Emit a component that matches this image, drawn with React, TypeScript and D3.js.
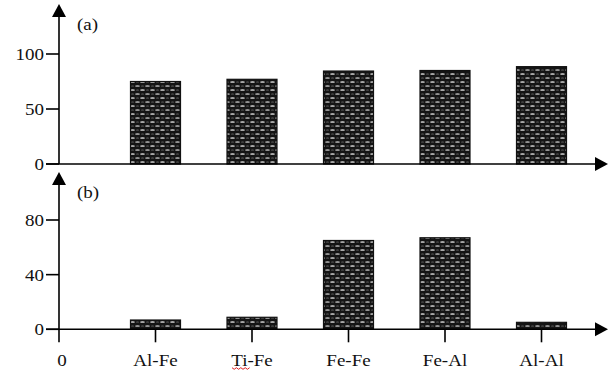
import React from "react";
import * as d3 from "d3";

const categories = ["Al-Fe", "Ti-Fe", "Fe-Fe", "Fe-Al", "Al-Al"];
const valuesA = [75, 77, 84.5, 85, 88.5];
const valuesB = [6.8, 8.8, 65, 67, 5.1];
const ticksA = [0, 50, 100];
const ticksB = [0, 40, 80];

const W = 608;
const H = 373;
const FONT = "'Liberation Serif', 'Times New Roman', Times, serif";

const x = d3.scaleLinear().domain([0, 5]).range([59, 541.5]);
const yA = d3.scaleLinear().domain([0, 100]).range([164, 54]);
const yB = d3.scaleLinear().domain([0, 80]).range([329.3, 220]);
const BAR_W = 50;

function Txt({ x, y, anchor, children }: { x: number; y: number; anchor: string; children: React.ReactNode }) {
  return (
    <g transform={`translate(${x},${y}) scale(1.12,1)`}>
      <text x={0} y={0} textAnchor={anchor as any} fontFamily={FONT} fontSize={17} fill="#111">
        {children}
      </text>
    </g>
  );
}

function Panel({ y, values, ticks, label, top, showCats }: any) {
  const y0 = y(0);
  return (
    <g>
      {values.map((v: number, i: number) => (
        <rect
          key={i}
          x={x(i + 1) - BAR_W / 2}
          y={y(v)}
          width={BAR_W}
          height={y0 - y(v)}
          fill="url(#weave)"
          stroke="#111"
          strokeWidth={1.2}
        />
      ))}
      <line x1={59} x2={59} y1={top + 10} y2={showCats ? y0 + 13 : y0} stroke="#000" strokeWidth={1.6} />
      <path d={`M59,${top} L52,${top + 13} L66,${top + 13} Z`} fill="#000" />
      <line x1={46} x2={598} y1={y0} y2={y0} stroke="#000" strokeWidth={1.6} />
      <path d={`M608,${y0} L595,${y0 - 7} L595,${y0 + 7} Z`} fill="#000" />
      {ticks.map((t: number) => (
        <g key={t}>
          <line x1={46} x2={59} y1={y(t)} y2={y(t)} stroke="#000" strokeWidth={1.6} />
          <Txt x={44} y={y(t) + 6} anchor="end">{t}</Txt>
        </g>
      ))}
      <Txt x={77} y={top + 26} anchor="start">{label}</Txt>
      {showCats && (
        <g>
          {categories.map((c, i) => (
            <g key={c}>
              <line x1={x(i + 1)} x2={x(i + 1)} y1={y0} y2={y0 + 13} stroke="#000" strokeWidth={1.6} />
              <Txt x={x(i + 1)} y={366} anchor="middle">{c}</Txt>
            </g>
          ))}
          <Txt x={62} y={366} anchor="middle">0</Txt>
        </g>
      )}
    </g>
  );
}

export default function App() {
  const squiggle = d3.range(0, 9).map((k) => [232 + k * 2.2, 368 + (k % 2 ? 1.3 : -0.3)] as [number, number]);
  return (
    <svg width={W} height={H} style={{ position: "absolute", left: 0, top: 0, background: "#fff" }}>
      <defs>
        <pattern id="weave" width={10} height={8} patternUnits="userSpaceOnUse">
          <rect width={10} height={8} fill="#141414" />
          <ellipse cx={2.5} cy={2} rx={2.4} ry={0.85} fill="#d8d8d8" />
          <ellipse cx={7.5} cy={6} rx={2.4} ry={0.85} fill="#bcbcbc" />
          <ellipse cx={7.5} cy={2} rx={1.6} ry={0.6} fill="#666" />
          <ellipse cx={2.5} cy={6} rx={1.6} ry={0.6} fill="#666" />
        </pattern>
      </defs>
      <rect width={W} height={H} fill="#fff" />
      <Panel y={yA} values={valuesA} ticks={ticksA} label="(a)" top={4} showCats={false} />
      <Panel y={yB} values={valuesB} ticks={ticksB} label="(b)" top={172} showCats={true} />
      <path d={d3.line()(squiggle) || ""} fill="none" stroke="#d22" strokeWidth={1} />
    </svg>
  );
}
